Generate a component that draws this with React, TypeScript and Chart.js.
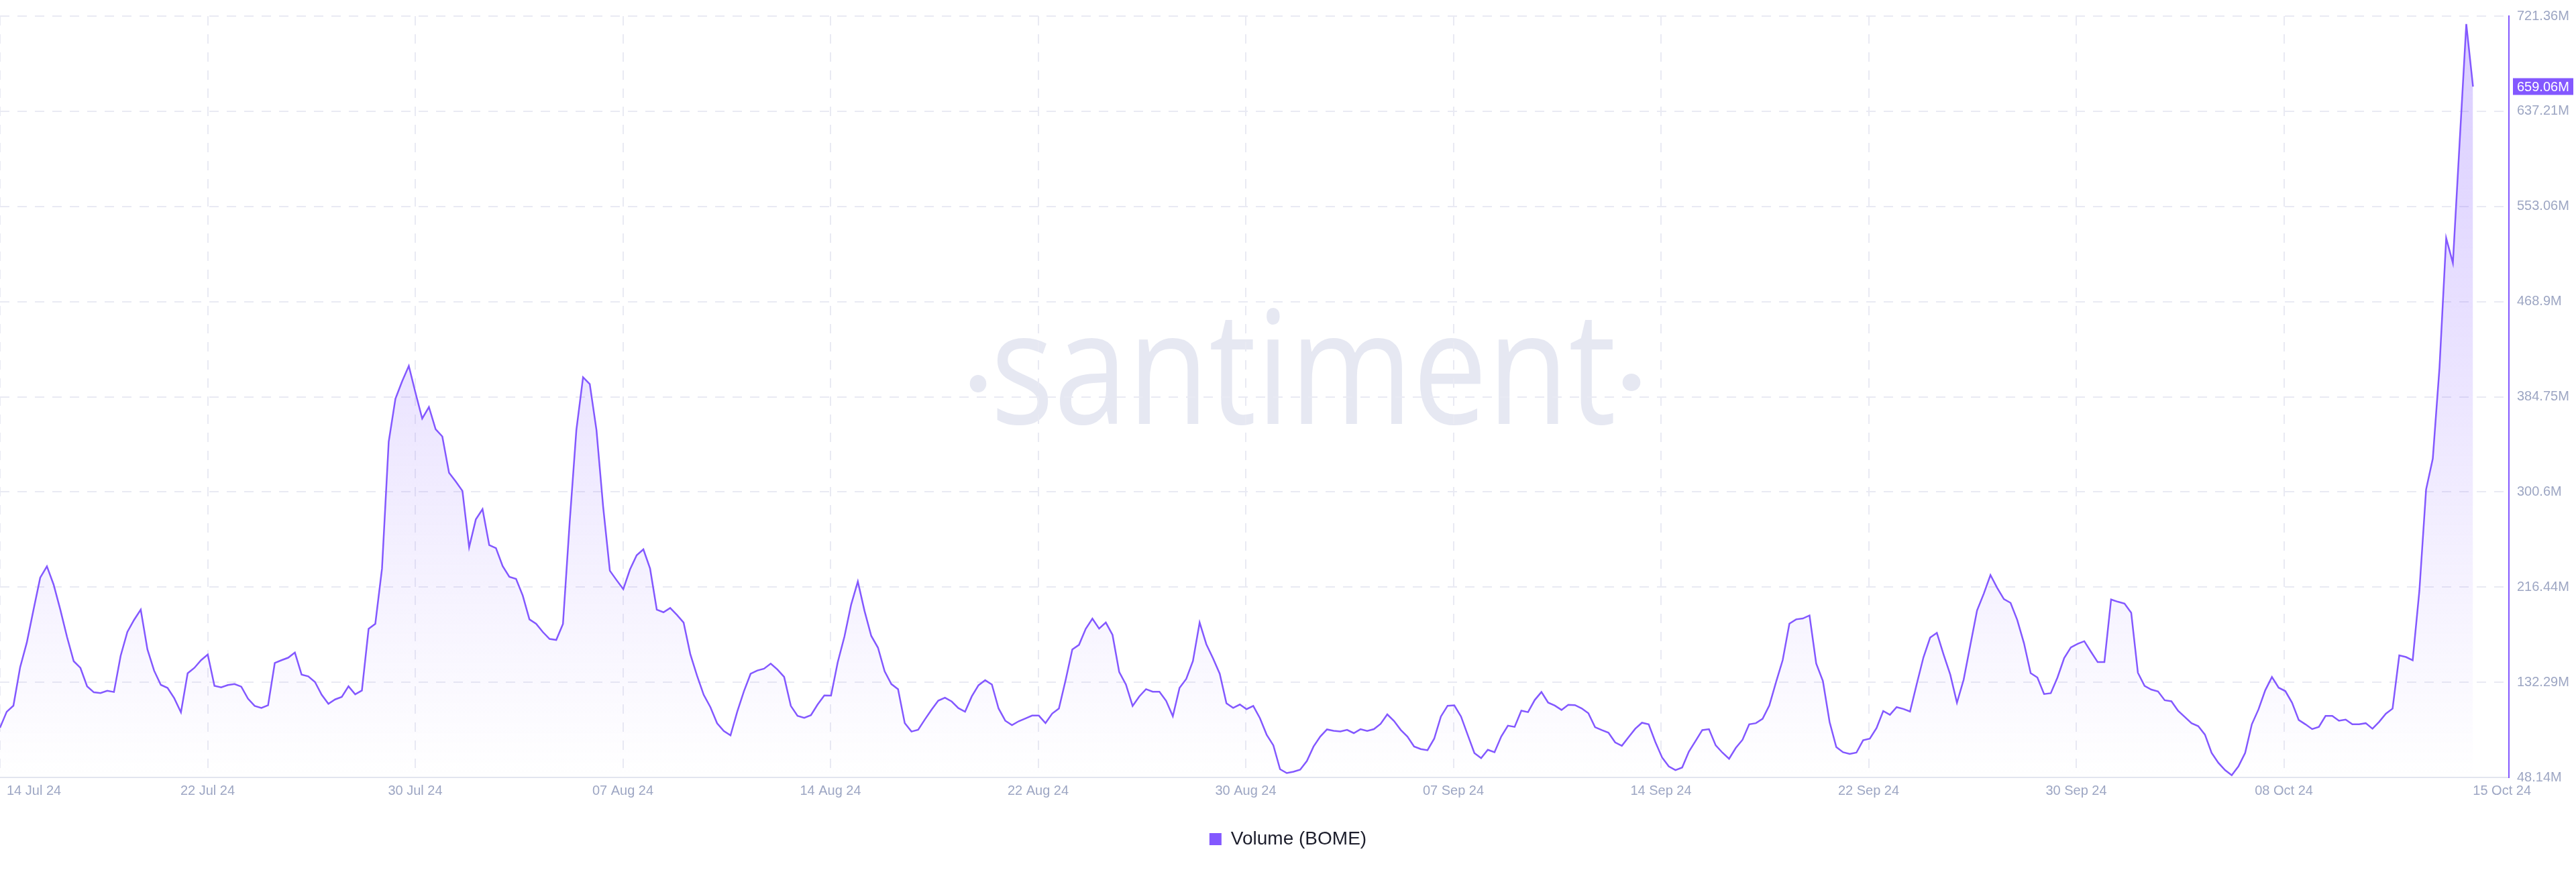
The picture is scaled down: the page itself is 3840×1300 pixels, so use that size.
import React, { useEffect, useRef } from "react";
import { Chart, registerables } from "chart.js";

Chart.register(...registerables);

// ---- data ----
// sample times are days after 14 Jul 24 00:00, one sample every 6 hours
const START_DAY = 0.9;
const STEP_DAYS = 0.25;
const AXIS_MAX_DAY = 94.49;

// Volume (BOME), millions
const volume: number[] = [
  92.1, 106.2, 111.6, 145.4, 167.4, 196.5, 224.8, 234.8, 218.7, 196.5,
  172.4, 150.9, 145.0, 128.7, 123.4, 122.8, 124.8, 123.7, 155.7, 176.7,
  187.4, 196.5, 161.3, 142.5, 130.0, 127.3, 118.2, 105.7, 140.2, 145.0,
  151.8, 156.8, 129.1, 127.8, 129.8, 130.7, 128.4, 117.8, 111.4, 109.6,
  112.0, 149.3, 151.8, 154.0, 158.6, 139.1, 137.5, 132.5, 121.2, 113.2,
  117.1, 119.4, 128.7, 121.6, 125.0, 179.5, 184.0, 232.8, 345.0, 383.0,
  398.4, 412.0, 388.2, 365.5, 375.7, 356.0, 349.6, 317.6, 309.9, 301.5,
  251.6, 276.3, 285.4, 253.6, 250.9, 235.0, 225.5, 223.7, 209.0, 187.9,
  184.0, 176.7, 170.6, 169.7, 183.8, 273.6, 355.3, 402.0, 396.0, 355.3,
  287.2, 230.9, 222.6, 214.6, 232.0, 244.6, 249.8, 232.8, 196.5, 194.2,
  198.0, 191.9, 185.1, 157.2, 138.2, 121.2, 110.3, 96.0, 89.2, 85.3,
  106.2, 124.3, 139.8, 142.7, 144.3, 148.8, 143.6, 137.0, 111.4, 102.6,
  100.8, 103.2, 112.6, 120.7, 120.5, 150.0, 172.7, 201.0, 221.4, 195.3,
  173.3, 162.9, 142.0, 130.7, 126.2, 96.2, 88.7, 90.3, 99.4, 108.0,
  116.0, 118.7, 115.3, 109.4, 106.2, 119.8, 129.6, 134.1, 130.3, 109.1,
  98.3, 94.4, 97.8, 100.3, 102.8, 102.8, 96.2, 104.6, 109.1, 134.1,
  161.3, 165.4, 179.5, 188.5, 179.7, 185.1, 174.2, 141.4, 130.3, 111.4,
  119.8, 126.2, 123.9, 123.9, 115.9, 102.3, 127.3, 135.2, 151.1, 185.1,
  165.9, 153.4, 139.8, 113.7, 109.6, 112.6, 108.5, 111.4, 100.5, 85.9,
  76.5, 55.4, 52.0, 53.2, 55.0, 62.6, 75.5, 84.3, 90.6, 89.4,
  88.8, 90.2, 87.3, 90.8, 89.2, 90.8, 95.5, 103.9, 98.1, 90.2,
  84.3, 75.5, 73.2, 72.2, 82.4, 102.0, 111.5, 111.9, 102.0, 85.7,
  69.7, 65.2, 72.6, 70.4, 84.3, 93.9, 92.8, 107.2, 105.9, 116.6,
  123.7, 114.3, 111.7, 107.8, 112.3, 112.1, 109.2, 104.9, 92.6, 90.0,
  87.7, 79.1, 76.1, 83.7, 91.2, 96.5, 95.1, 79.4, 65.8, 57.9,
  54.6, 56.9, 71.0, 80.4, 90.0, 90.8, 76.5, 70.1, 64.6, 74.2,
  81.4, 95.1, 96.1, 100.0, 111.7, 132.3, 151.9, 184.1, 187.9, 188.7,
  191.4, 148.9, 133.3, 97.1, 75.0, 70.4, 68.9, 70.1, 81.0, 82.4,
  91.8, 106.9, 103.5, 110.3, 108.7, 106.4, 130.7, 154.3, 171.8, 176.0,
  156.9, 139.1, 114.2, 134.6, 165.3, 195.8, 210.6, 227.1, 215.8, 205.8,
  202.5, 187.3, 166.9, 140.4, 136.5, 121.9, 122.6, 136.5, 153.7, 163.1,
  166.3, 168.6, 159.2, 150.1, 150.1, 205.5, 203.5, 201.9, 193.8, 140.7,
  129.1, 125.8, 124.2, 116.4, 115.5, 107.1, 101.6, 96.1, 93.5, 86.0,
  69.8, 61.1, 54.6, 50.1, 57.9, 69.8, 95.1, 108.4, 125.2, 136.9,
  127.5, 124.5, 114.2, 98.9, 95.1, 90.9, 92.8, 102.5, 102.5, 98.3,
  99.3, 95.1, 95.1, 96.1, 91.2, 97.3, 104.5, 109.0, 156.0, 154.6,
  151.7, 213.2, 302.7, 330.0, 410.3, 525.0, 503.0, 609.0, 714.3, 659.06,
];

const xTickDays = [0.9, 8.645, 16.39, 24.135, 31.88, 39.625, 47.37, 55.115, 62.86, 70.605, 78.35, 86.095, 93.84];
const xTickLabels = [
  "14 Jul 24", "22 Jul 24", "30 Jul 24", "07 Aug 24", "14 Aug 24", "22 Aug 24", "30 Aug 24",
  "07 Sep 24", "14 Sep 24", "22 Sep 24", "30 Sep 24", "08 Oct 24", "15 Oct 24",
];

const yTickValues = [48.14, 132.29, 216.44, 300.6, 384.75, 468.9, 553.06, 637.21, 721.36];
const yTickLabels = ["48.14M", "132.29M", "216.44M", "300.6M", "384.75M", "468.9M", "553.06M", "637.21M", "721.36M"];

const SERIES_LABEL = "Volume (BOME)";

// ---- style ----
const PURPLE = "#8358FF";
const GRID = "#E9EAF3";
const TICK_COLOR = "#9DA6C3";
const FONT = '"Liberation Sans", Arial, sans-serif';

const watermarkPlugin = {
  id: "watermark",
  beforeDraw(chart: any) {
    const ctx = chart.ctx as CanvasRenderingContext2D;
    ctx.save();
    ctx.fillStyle = "#E6E8F2";
    ctx.font = '235px "Open Sans"';
    ctx.textBaseline = "alphabetic";
    ctx.textAlign = "left";
    const m = ctx.measureText("santiment");
    const ink = m.actualBoundingBoxLeft + m.actualBoundingBoxRight;
    const sx = 919 / ink;
    ctx.translate(1486, 632);
    ctx.scale(sx, 1);
    ctx.fillText("santiment", m.actualBoundingBoxLeft, 0);
    ctx.restore();
    ctx.save();
    ctx.fillStyle = "#E6E8F2";
    ctx.beginPath();
    ctx.ellipse(1458, 572, 12.3, 13, 0, 0, Math.PI * 2);
    ctx.fill();
    ctx.beginPath();
    ctx.ellipse(2432, 570, 13.3, 13, 0, 0, Math.PI * 2);
    ctx.fill();
    ctx.restore();
  },
};

const overlayPlugin = {
  id: "overlay",
  afterDraw(chart: any) {
    const ctx = chart.ctx as CanvasRenderingContext2D;
    const xs = chart.scales.x;
    const ys = chart.scales.y;
    const area = chart.chartArea;
    // x tick labels
    ctx.save();
    ctx.font = `20px ${FONT}`;
    ctx.fillStyle = TICK_COLOR;
    ctx.textBaseline = "middle";
    const ly = area.bottom + 20;
    xTickDays.forEach((d, i) => {
      const px = xs.getPixelForValue(d);
      const label = xTickLabels[i];
      const w = ctx.measureText(label).width;
      let left = px - w / 2;
      if (i === 0) left = Math.max(left, area.left + 10);
      if (i === xTickDays.length - 1) left = area.right + 33 - w;
      ctx.textAlign = "left";
      ctx.fillText(label, left, ly);
    });
    ctx.restore();
    // last value badge
    const last = volume[volume.length - 1];
    const py = ys.getPixelForValue(last);
    ctx.save();
    ctx.fillStyle = PURPLE;
    ctx.fillRect(area.right + 6, py - 12.5, 90, 25);
    ctx.fillStyle = "#FFFFFF";
    ctx.font = `20px ${FONT}`;
    ctx.textBaseline = "middle";
    ctx.textAlign = "left";
    ctx.fillText(`${last.toFixed(2)}M`, area.right + 12, py + 1);
    ctx.restore();
  },
};

export default function App() {
  const ref = useRef<HTMLCanvasElement | null>(null);

  useEffect(() => {
    if (!ref.current) return;
    const points = volume.map((v, i) => ({ x: START_DAY + i * STEP_DAYS, y: v }));
    const chart = new Chart(ref.current, {
      type: "line",
      data: {
        datasets: [
          {
            label: SERIES_LABEL,
            data: points,
            borderColor: PURPLE,
            borderWidth: 2.5,
            pointRadius: 0,
            tension: 0,
            fill: "start",
            backgroundColor: (c: any) => {
              const area = c.chart.chartArea;
              if (!area) return "rgba(131,88,255,0.1)";
              const g = c.chart.ctx.createLinearGradient(0, area.top, 0, area.bottom);
              g.addColorStop(0, "rgba(131,88,255,0.30)");
              g.addColorStop(1, "rgba(131,88,255,0.0)");
              return g;
            },
          },
        ],
      },
      options: {
        animation: false,
        responsive: false,
        devicePixelRatio: 1,
        layout: { padding: { top: 14, left: 0, right: 0, bottom: 25 } },
        font: { family: FONT },
        plugins: {
          tooltip: { enabled: false },
          legend: {
            position: "bottom",
            labels: {
              boxWidth: 18,
              boxHeight: 18,
              padding: 10,
              color: "#1C1D2B",
              font: { size: 28, family: FONT },
              generateLabels: () => [
                {
                  text: SERIES_LABEL,
                  fillStyle: PURPLE,
                  strokeStyle: PURPLE,
                  lineWidth: 0,
                  hidden: false,
                  datasetIndex: 0,
                  fontColor: "#1C1D2B",
                } as any,
              ],
            },
          },
        },
        scales: {
          x: {
            type: "linear",
            min: START_DAY,
            max: AXIS_MAX_DAY,
            afterBuildTicks: (s: any) => {
              s.ticks = xTickDays.map((v) => ({ value: v }));
            },
            afterFit: (s: any) => {
              s.height = 68;
              s.paddingLeft = 0;
              s.paddingRight = 0;
            },
            ticks: { display: false },
            grid: {
              drawTicks: false,
              lineWidth: 2,
              color: (c: any) => (c.index === xTickDays.length - 1 ? "rgba(0,0,0,0)" : GRID),
            },
            border: { display: true, color: "#E2E5EF", width: 2, dash: [14, 13] },
          },
          y: {
            type: "linear",
            position: "right",
            min: yTickValues[0],
            max: yTickValues[yTickValues.length - 1],
            afterBuildTicks: (s: any) => {
              s.ticks = yTickValues.map((v) => ({ value: v }));
            },
            afterFit: (s: any) => {
              s.width = 100;
            },
            ticks: {
              padding: 12,
              color: TICK_COLOR,
              font: { size: 20, family: FONT },
              callback: (_v: any, i: number) => yTickLabels[i],
            },
            grid: { drawTicks: false, lineWidth: 2, color: GRID },
            border: { display: true, color: PURPLE, width: 2, dash: [14, 12] },
          },
        },
      },
      plugins: [watermarkPlugin, overlayPlugin],
    } as any);
    return () => chart.destroy();
  }, []);

  return (
    <div style={{ position: "fixed", left: 0, top: 0, width: 3840, height: 1300, background: "#fff" }}>
      <canvas ref={ref} width={3840} height={1300} style={{ width: 3840, height: 1300, display: "block" }} />
    </div>
  );
}
